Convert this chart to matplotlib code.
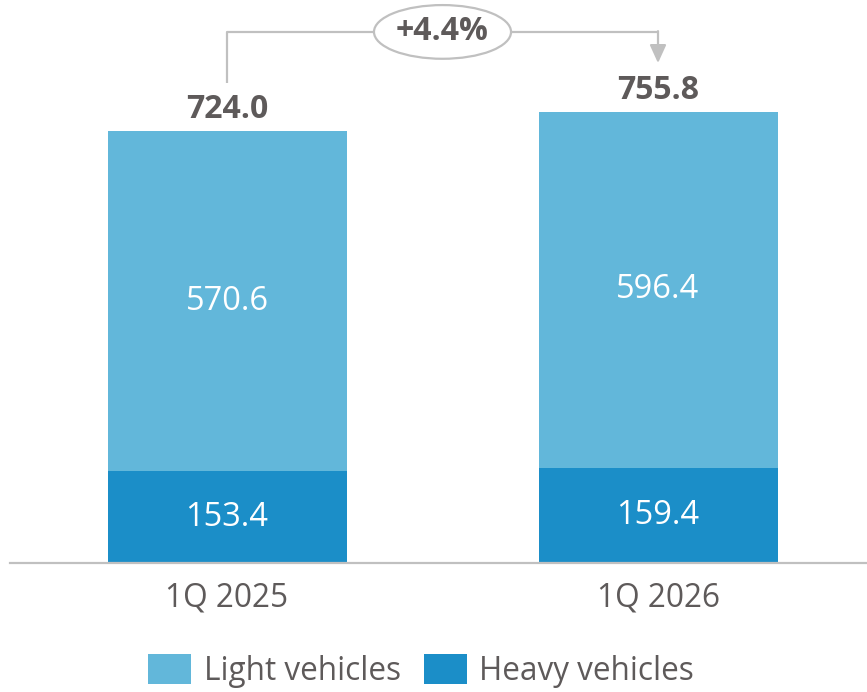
import matplotlib
matplotlib.use('Agg')
import matplotlib.pyplot as plt
from matplotlib.patches import Ellipse, Patch

plt.rcParams['font.family'] = ['Open Sans', 'DejaVu Sans']

# data
quarters = ['1Q 2025', '1Q 2026']
heavy = [153.4, 159.4]
light = [570.6, 596.4]
totals = [724.0, 755.8]
growth_label = '+4.4%'

light_color = '#62b7da'
heavy_color = '#1b8ec8'
text_grey = '#5e5a5a'
line_grey = '#c0c0c0'

fig = plt.figure(figsize=(8.67, 6.92), dpi=100)
ax = fig.add_axes([0, 1 - 0.8136, 1, 0.8136])

x = [0, 1]
bar_w = 0.5545
ax.bar(x, heavy, width=bar_w, color=heavy_color, zorder=2)
ax.bar(x, light, width=bar_w, bottom=heavy, color=light_color, zorder=2)

# segment labels
for i in range(len(x)):
    ax.text(x[i], heavy[i] / 2, f'{heavy[i]:.1f}', ha='center', va='center',
            color='white', fontsize=23.5)
    ax.text(x[i], heavy[i] + light[i] / 2, f'{light[i]:.1f}', ha='center',
            va='center', color='white', fontsize=23.5)
    ax.annotate(f'{totals[i]:.1f}', xy=(x[i], totals[i]), xytext=(0, 9.5),
                textcoords='offset points', ha='center', va='baseline',
                fontsize=23, fontweight='bold', color=text_grey)

# growth bracket
y_top = 890
ax.plot([x[0], x[0], x[1]], [totals[0] + 80, y_top, y_top], color=line_grey,
        lw=1.6, solid_capstyle='butt', zorder=1)
ax.annotate('', xy=(x[1], totals[1] + 82), xytext=(x[1], y_top + 1.3),
            arrowprops=dict(arrowstyle='-|>,head_length=0.55,head_width=0.25',
                            mutation_scale=20, color=line_grey, lw=1.6,
                            shrinkA=0, shrinkB=0))
ax.add_patch(Ellipse((0.5, y_top), 0.318, 90, facecolor='white',
                     edgecolor=line_grey, lw=1.6, zorder=3))
ax.text(0.5, y_top, growth_label, ha='center', va='center', fontsize=23,
        fontweight='bold', color=text_grey, zorder=4)

ax.set_xlim(-0.5267, 1.4849)
ax.set_ylim(0, 943.5)
ax.set_yticks([])
ax.set_xticks(x)
ax.set_xticklabels(quarters, fontsize=22.8, color=text_grey)
ax.tick_params(axis='x', length=0, pad=13)
for s in ['top', 'right', 'left']:
    ax.spines[s].set_visible(False)
ax.spines['bottom'].set_color(line_grey)
ax.spines['bottom'].set_linewidth(1.6)
ax.spines['bottom'].set_bounds(-0.5035, 1.4849)
ax.patch.set_alpha(0)

handles = [Patch(facecolor=light_color), Patch(facecolor=heavy_color)]
fig.legend(handles, ['Light vehicles', 'Heavy vehicles'], loc='center',
           bbox_to_anchor=(0.486, 1 - 671 / 692), ncol=2, frameon=False,
           fontsize=22.7, labelcolor=text_grey, handlelength=1.35,
           handleheight=1.1, handletextpad=0.4, columnspacing=0.75)

fig.savefig('out.png', dpi=100)
